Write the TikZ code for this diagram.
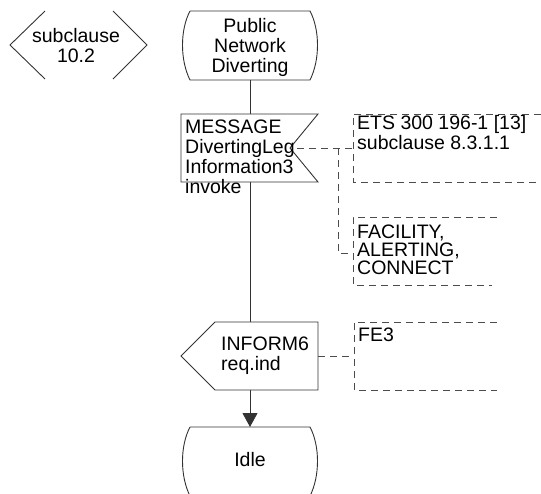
\documentclass[tikz,border=0pt]{standalone}
\usepackage{fontspec}
\setmainfont{Liberation Sans}
\usetikzlibrary{arrows.meta}
\begin{document}
\begin{tikzpicture}[x=1pt,y=-1pt,
  shp/.style={draw=black!80,line width=0.9pt},
  cmt/.style={draw=black!70,line width=0.8pt,dash pattern=on 7pt off 5pt},
  lnk/.style={draw=black!80,line width=0.9pt},
  txt/.style={inner sep=0pt,font=\fontsize{19.5}{20}\selectfont},
  arr/.style={-{Triangle[length=14pt,width=15pt]}}]
\useasboundingbox (0,0) rectangle (541,493);
% connector hexagon
\draw[shp] (45,11) -- (10,45) -- (45,79);
\draw[shp] (113,11) -- (147,45) -- (113,79);
\node[txt,align=center,anchor=north] (sub) at (76,28) {subclause\\10.2};
% state Public Network Diverting
\draw[shp] (190,11) -- (310,11) .. controls (320,30) and (320,60) .. (310,80)
  -- (190,80) .. controls (180,60) and (180,30) .. (190,11);
\node[txt,align=center,anchor=north] (pnd) at (250,18) {Public\\Network\\Diverting};
\coordinate (pnd-s) at (250,80);
% input MESSAGE
\draw[shp] (181,114) -- (318,114) -- (290,148) -- (318,182) -- (181,182) -- cycle;
\node[txt,align=left,anchor=north west] (msg) at (185,120) {MESSAGE\\DivertingLeg\\Information3\\invoke};
\coordinate (msg-n) at (250,114);
\coordinate (msg-s) at (250,182);
\coordinate (msg-e) at (297,148);
% comment 1
\draw[cmt] (541,114) -- (353,114) -- (353,182) -- (541,182);
\node[txt,align=left,anchor=north west] (c1) at (357,115) {ETS 300 196-1 [13]\\subclause 8.3.1.1};
\coordinate (c1-w) at (353,148);
% comment 2
\draw[cmt] (497,217) -- (353,217) -- (353,285) -- (492,285);
\node[txt,align=left,anchor=north west,font=\fontsize{19.5}{18}\selectfont] (c2) at (357,225) {FACILITY,\\ALERTING,\\CONNECT};
\coordinate (c2-w) at (353,253);
\coordinate (j1) at (338,148);
% output INFORM6
\draw[shp] (215,322) -- (318,322) -- (318,390) -- (215,390) -- (181,356) -- cycle;
\node[txt,align=left,anchor=north west] (inf) at (221,337) {INFORM6\\req.ind};
\coordinate (inf-n) at (250,322);
\coordinate (inf-s) at (250,390);
\coordinate (inf-e) at (318,356);
% comment 3
\draw[cmt] (497,322) -- (354,322) -- (354,390) -- (497,390);
\node[txt,align=left,anchor=north west] (c3) at (358,328) {FE3};
\coordinate (c3-w) at (354,356);
% state Idle
\draw[shp] (190,427) -- (310,427) .. controls (320,446) and (320,476) .. (310,496)
  -- (190,496) .. controls (180,476) and (180,446) .. (190,427);
\node[txt,anchor=north] (idle) at (250,452) {Idle};
\coordinate (idle-n) at (250,427);
% flow lines
\draw[lnk] (pnd-s) -- (msg-n);
\draw[lnk] (msg-s) -- (inf-n);
\draw[lnk,arr] (inf-s) -- (idle-n);
% comment links
\draw[cmt] (msg-e) -- (c1-w);
\draw[cmt] (j1) -- (338,253) -- (c2-w);
\draw[cmt] (inf-e) -- (c3-w);
\end{tikzpicture}
\end{document}
